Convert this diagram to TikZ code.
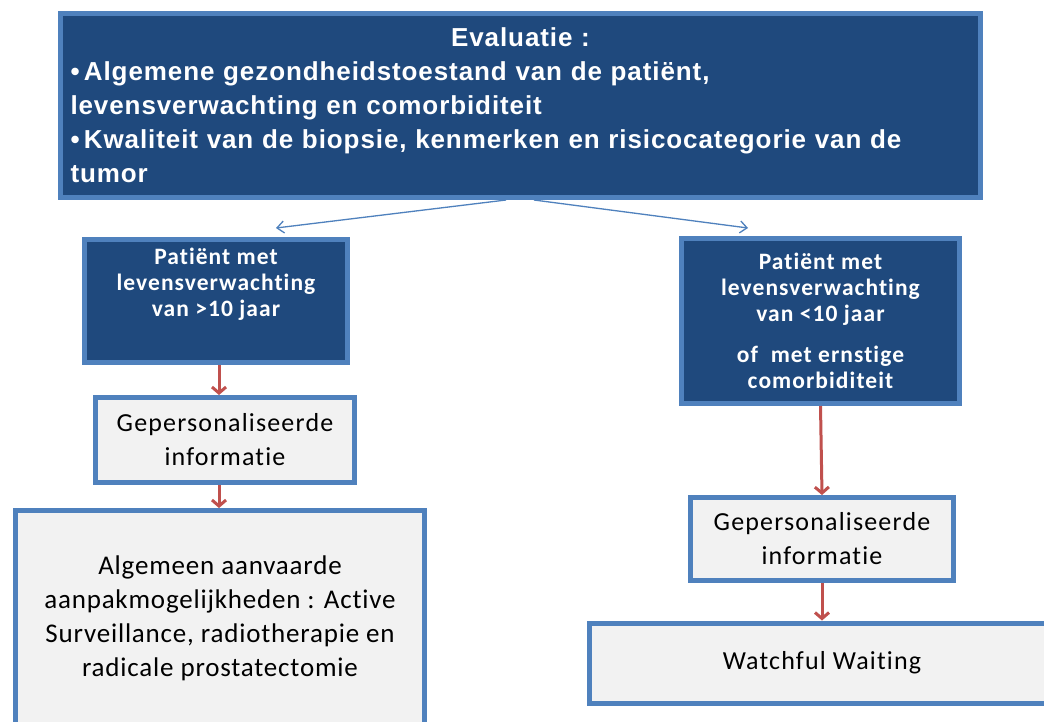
\documentclass[tikz,border=0pt]{standalone}
\usepackage{fontspec}
\newfontfamily\arialfont[LetterSpace=3.5]{Liberation Sans}
\newfontfamily\calibfont[LetterSpace=4.5,Ligatures=NoCommon]{Carlito}
\newfontfamily\calibbig[LetterSpace=3,Ligatures=NoCommon]{Carlito}
\newfontfamily\calibdark[LetterSpace=4.5,Ligatures=NoCommon]{Carlito}
\usetikzlibrary{arrows.meta}
\definecolor{darkbox}{RGB}{31,73,125}
\definecolor{edgeblue}{RGB}{79,129,189}
\definecolor{greyfill}{RGB}{242,242,242}
\definecolor{arrowred}{RGB}{192,80,77}
\tikzset{
  darkstyle/.style={draw=edgeblue, line width=5pt, fill=darkbox, inner sep=0pt, text=white},
  greystyle/.style={draw=edgeblue, line width=5pt, fill=greyfill, inner sep=0pt, text=black},
  bluearrow/.style={draw=edgeblue, line width=1.3pt, -{Straight Barb[length=7pt,width=12pt,line width=1.3pt]}},
  redarrow/.style={draw=arrowred, line width=3pt, -{Straight Barb[length=6pt,width=14pt,line width=3pt]}},
}
\begin{document}
\begin{tikzpicture}[x=1pt,y=-1pt]
\clip (0,0) rectangle (1044,721);
\fill[white] (0,0) rectangle (1044,721);

% top evaluation box
\node[darkstyle, minimum width=920pt, minimum height=184pt, text width=900pt,
      font=\arialfont\bfseries\fontsize{26}{34}\selectfont] (ev) at (520.5,105.5)
  {\centering Evaluatie :\par\raggedright
   \textbullet\,Algemene gezondheidstoestand van de patiënt,\\
   levensverwachting en comorbiditeit\\
   \textbullet\,Kwaliteit van de biopsie, kenmerken en risicocategorie van de\\
   tumor\par};

% left branch
\node[darkstyle, minimum width=263pt, minimum height=123pt] (ld) at (216,301) {};
\node[align=center, text=white, inner sep=0pt, anchor=north,
      font=\calibdark\bfseries\fontsize{23.5}{26}\selectfont] (ldtext) at (216,248)
  {Patiënt met\\levensverwachting\\van >10 jaar};
\node[greystyle, minimum width=259pt, minimum height=85pt, align=center,
      font=\calibfont\fontsize{26}{34}\selectfont] (lg) at (225,440)
  {Gepersonaliseerde\\informatie};
\node[greystyle, minimum width=409pt, minimum height=215pt, align=center,
      font=\calibbig\fontsize{27}{34}\selectfont] (lb) at (220,618)
  {Algemeen aanvaarde\\aanpakmogelijkheden : Active\\Surveillance, radiotherapie en\\radicale prostatectomie};

% right branch
\node[darkstyle, minimum width=278pt, minimum height=165pt, align=center,
      font=\calibdark\bfseries\fontsize{23.5}{26}\selectfont] (rd) at (820.5,321)
  {Patiënt met\\levensverwachting\\van <10 jaar\\[15pt]of\ \ met ernstige\\comorbiditeit};
\node[greystyle, minimum width=263pt, minimum height=83pt, align=center,
      font=\calibfont\fontsize{26}{34}\selectfont] (rg) at (822,539)
  {Gepersonaliseerde\\informatie};
\node[greystyle, minimum width=465pt, minimum height=80pt, align=center,
      font=\calibfont\fontsize{26}{34}\selectfont] (ww) at (822,663)
  {Watchful Waiting};

% connectors
\coordinate (ltip) at (276,228);
\coordinate (rtip) at (748,228);
\draw[bluearrow] (ev.south -| 506,0) -- (ltip);
\draw[bluearrow] (ev.south -| 534,0) -- (rtip);
\draw[redarrow] (ld.south -| 219,0) -- (lg.north -| 219,0);
\draw[redarrow] (lg.south -| 219,0) -- (lb.north -| 219,0);
\draw[redarrow] (rd.south) -- (rg.north);
\draw[redarrow] (rg.south) -- (ww.north);
\end{tikzpicture}
\end{document}
